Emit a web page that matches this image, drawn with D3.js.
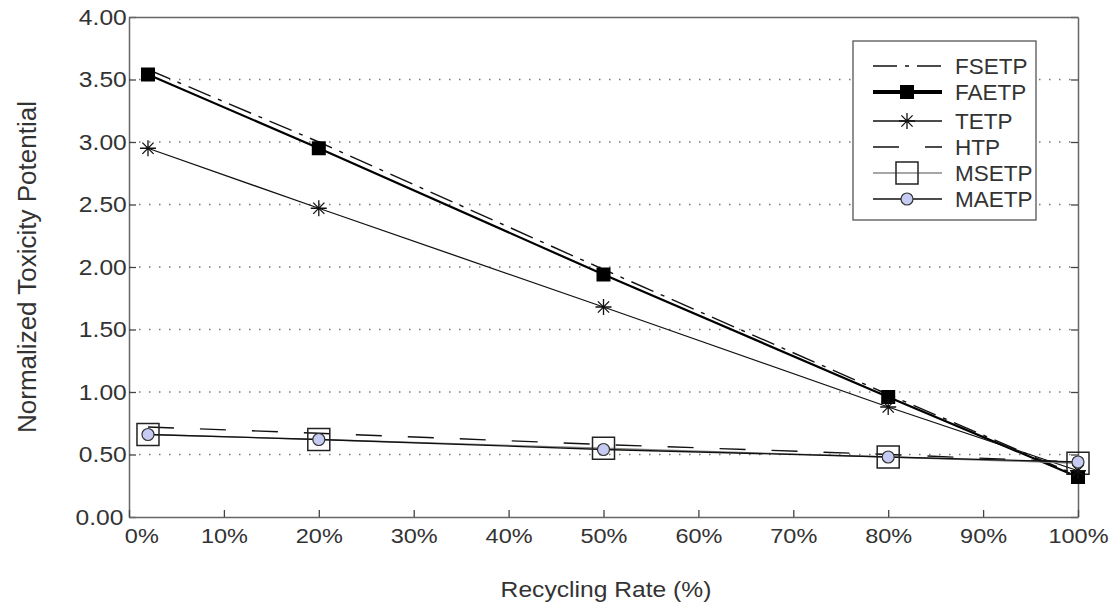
<!DOCTYPE html>
<html>
<head>
<meta charset="utf-8">
<script src="https://cdn.jsdelivr.net/npm/d3@7"></script>
<style>
  body { margin: 0; background: #fff; }
  text { font-family: "Liberation Sans", Arial, sans-serif; fill: #333; }
</style>
</head>
<body>
<div id="chart"></div>
<script>
(function(){
  // chart data
  const rates = [2, 20, 50, 80, 100];
  const fsetp = [3.58, 3.00, 1.98, 0.98, 0.33];
  const faetp = [3.54, 2.95, 1.94, 0.96, 0.32];
  const tetp  = [2.95, 2.47, 1.68, 0.88, 0.37];
  const htp   = [0.72, 0.67, 0.58, 0.50, 0.44];
  const msetp = [0.66, 0.62, 0.55, 0.48, 0.43];
  const maetp = [0.66, 0.62, 0.54, 0.48, 0.44];
  const yTicks = [0, 0.5, 1, 1.5, 2, 2.5, 3, 3.5, 4];
  const xTicks = [0, 10, 20, 30, 40, 50, 60, 70, 80, 90, 100];
  const seriesNames = ["FSETP", "FAETP", "TETP", "HTP", "MSETP", "MAETP"];

  const width = 1118, height = 605;
  const margin = { left: 129, right: 40, top: 17, bottom: 88 };
  const stretch = "scale(1.12,1)"; // the source text is a little wide

  const svg = d3.select("#chart").append("svg")
      .attr("width", width).attr("height", height);

  const x = d3.scaleLinear().domain([0, 100]).range([margin.left, width - margin.right]);
  const y = d3.scaleLinear().domain([0, 4]).range([height - margin.bottom, margin.top]);

  // dotted horizontal grid
  svg.append("g").selectAll("line")
    .data(yTicks.slice(1, -1))
    .join("line")
      .attr("x1", x(0)).attr("x2", x(100))
      .attr("y1", d => y(d)).attr("y2", d => y(d))
      .attr("stroke", "#777").attr("stroke-width", 1.3)
      .attr("stroke-dasharray", "1.5,8.5");

  // axes, ticks pointing inward
  const fmtY = d3.format(".2f");
  const left = svg.append("g").attr("transform", `translate(${x(0)},0)`)
    .call(d3.axisLeft(y).tickValues(yTicks).tickFormat(fmtY).tickSizeInner(-7).tickSizeOuter(0).tickPadding(3));
  const right = svg.append("g").attr("transform", `translate(${x(100)},0)`)
    .call(d3.axisRight(y).tickValues(yTicks).tickFormat("").tickSizeInner(-7).tickSizeOuter(0));
  const bottom = svg.append("g").attr("transform", `translate(0,${y(0)})`)
    .call(d3.axisBottom(x).tickValues(xTicks).tickFormat(d => d + "%").tickSizeInner(-7).tickSizeOuter(0).tickPadding(11));
  const top = svg.append("g").attr("transform", `translate(0,${y(4)})`)
    .call(d3.axisTop(x).tickValues([]).tickSizeOuter(0));

  [left, right, bottom, top].forEach(g => {
    g.select(".domain").attr("stroke", "#666").attr("stroke-width", 1.5);
    g.selectAll(".tick line").attr("stroke", "#444").attr("stroke-width", 1.3);
    g.selectAll("text").attr("fill", "#333")
      .attr("font-family", "Liberation Sans, Arial, sans-serif")
      .attr("transform", stretch);
  });
  left.selectAll("text").attr("font-size", 22).attr("x", d => d === 0 ? -5 : -2);
  bottom.selectAll("text").attr("font-size", 21).attr("x", d => d === 0 ? 11 : 0);

  // axis titles
  svg.append("text")
    .attr("transform", `translate(606,597) ${stretch}`).attr("text-anchor", "middle")
    .attr("font-size", 22).text("Recycling Rate (%)");
  svg.append("text")
    .attr("transform", "translate(36,267) rotate(-90)")
    .attr("text-anchor", "middle")
    .attr("font-size", 26).text("Normalized Toxicity Potential");

  const line = d3.line().x(d => x(d[0])).y(d => y(d[1]));
  const pts = vals => rates.map((r, i) => [r, vals[i]]);

  const star = r => `M0,${-r}V${r}M${-r},0H${r}M${-r*0.7},${-r*0.7}L${r*0.7},${r*0.7}M${-r*0.7},${r*0.7}L${r*0.7},${-r*0.7}`;

  const styles = {
    FSETP: { data: fsetp, stroke: "#111", w: 1.4, dash: "24,8,4,8" },
    FAETP: { data: faetp, stroke: "#000", w: 2.2, dash: null, legendW: 4 },
    TETP:  { data: tetp,  stroke: "#111", w: 1.3, dash: null },
    HTP:   { data: htp,   stroke: "#111", w: 1.4, dash: "26,26" },
    MSETP: { data: msetp, stroke: "#888", w: 1.3, dash: null },
    MAETP: { data: maetp, stroke: "#111", w: 1.3, dash: null }
  };

  function drawMarker(g, name) {
    if (name === "FAETP") {
      g.append("rect").attr("x", -7).attr("y", -7).attr("width", 14).attr("height", 14).attr("fill", "#000");
    } else if (name === "TETP") {
      g.append("path").attr("d", star(8)).attr("stroke", "#111").attr("stroke-width", 1.3).attr("fill", "none");
    } else if (name === "MSETP") {
      g.append("rect").attr("x", -11).attr("y", -11).attr("width", 22).attr("height", 22)
        .attr("fill", "none").attr("stroke", "#222").attr("stroke-width", 1.5);
    } else if (name === "MAETP") {
      g.append("circle").attr("r", 6).attr("fill", "#c6cbf3").attr("stroke", "#333").attr("stroke-width", 1.2);
    }
  }

  // lines
  const plot = svg.append("g");
  seriesNames.forEach(name => {
    const s = styles[name];
    plot.append("path")
      .attr("d", line(pts(s.data)))
      .attr("fill", "none").attr("stroke", s.stroke).attr("stroke-width", s.w)
      .attr("stroke-dasharray", s.dash);
  });
  // markers
  ["MSETP", "FAETP", "TETP", "MAETP"].forEach(name => {
    const s = styles[name];
    plot.append("g").selectAll("g")
      .data(pts(s.data))
      .join("g")
        .attr("transform", d => `translate(${x(d[0])},${y(d[1])})`)
        .each(function() { drawMarker(d3.select(this), name); });
  });

  // legend
  const lg = svg.append("g").attr("transform", "translate(853,41)");
  lg.append("rect").attr("width", 183).attr("height", 179)
    .attr("fill", "#fff").attr("stroke", "#555").attr("stroke-width", 1.3);
  const rowY = [25, 51, 80, 106, 132, 158];
  seriesNames.forEach((name, i) => {
    const s = styles[name];
    const row = lg.append("g").attr("transform", `translate(0,${rowY[i]})`);
    row.append("line").attr("x1", 20).attr("x2", 89)
      .attr("stroke", s.stroke).attr("stroke-width", s.legendW || s.w)
      .attr("stroke-dasharray", s.dash);
    drawMarker(row.append("g").attr("transform", "translate(54,0)"), name);
    row.append("text").attr("x", 102).attr("y", 8).attr("font-size", 22.5).attr("fill", "#222").text(name);
  });
})();
</script>
</body>
</html>
